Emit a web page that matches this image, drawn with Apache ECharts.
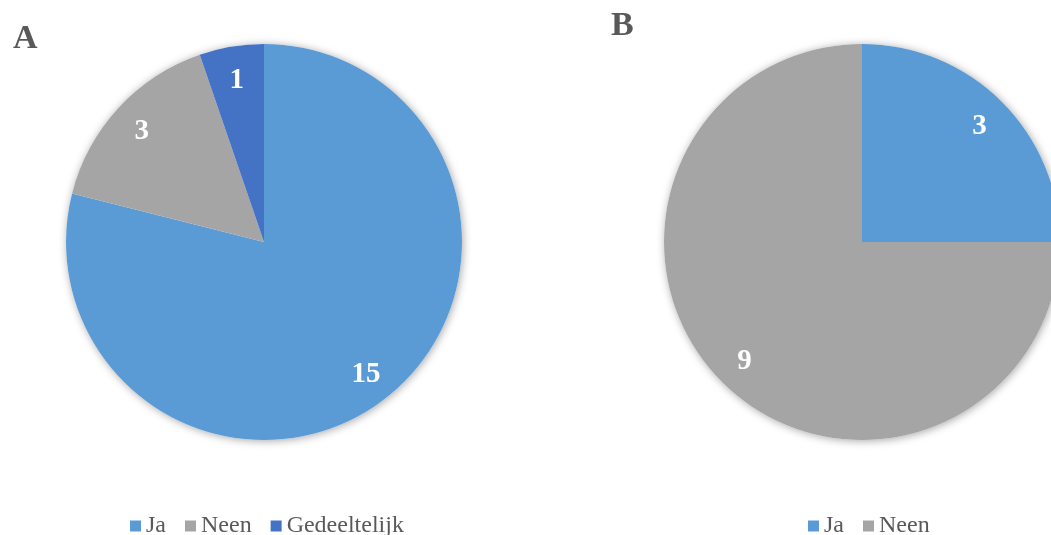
<!DOCTYPE html>
<html>
<head>
<meta charset="utf-8">
<script src="https://cdn.jsdelivr.net/npm/echarts@6/dist/echarts.min.js"></script>
<style>
  html, body { margin: 0; padding: 0; background: #fff; }
  #chart { width: 1051px; height: 535px; }
</style>
</head>
<body>
<div id="chart"></div>
<script>
// Survey answers, panel A and panel B
const categoriesA = ['Ja', 'Neen', 'Gedeeltelijk'];
const valuesA = [15, 3, 1];
const categoriesB = ['Ja', 'Neen'];
const valuesB = [3, 9];

const palette = { 'Ja': '#5B9BD5', 'Neen': '#A5A5A5', 'Gedeeltelijk': '#4472C4' };
const serif = '"Liberation Serif", "Times New Roman", serif';
const R = 198;

function sum(a) { return a.reduce((s, v) => s + v, 0); }

function panel(cats, vals, center) {
  const data = cats.map((c, i) => ({ name: c, value: vals[i], itemStyle: { color: palette[c] } }));
  return [
    // soft shadow under the whole disc
    {
      type: 'pie', center, radius: [0, R], silent: true, z: 1,
      label: { show: false }, labelLine: { show: false },
      data: [{ name: '', value: sum(vals), itemStyle: { color: '#fff', shadowBlur: 8, shadowColor: 'rgba(0,0,0,0.35)', shadowOffsetX: 1, shadowOffsetY: 1 } }],
      legendHoverLink: false
    },
    // the slices
    {
      type: 'pie', center, radius: [0, R], z: 2,
      label: { show: false }, labelLine: { show: false },
      itemStyle: { borderWidth: 0 },
      data
    },
    // value labels, set at roughly 0.82 of the radius
    {
      type: 'pie', center, radius: [128, R], silent: true, z: 3,
      itemStyle: { color: 'transparent' },
      label: {
        show: true, position: 'inside', formatter: '{c}',
        color: '#fff', fontFamily: serif, fontWeight: 'bold', fontSize: 29, offset: [0, 2]
      },
      labelLine: { show: false },
      data: cats.map((c, i) => ({ name: c, value: vals[i] })),
      legendHoverLink: false
    }
  ];
}

const chart = echarts.init(document.getElementById('chart'), null, { renderer: 'canvas' });
const legendStyle = {
  orient: 'horizontal', top: 509, icon: 'rect', itemWidth: 11, itemHeight: 11, itemGap: 19,
  textStyle: { color: '#595959', fontFamily: serif, fontSize: 24, padding: [0, 0, 0, 0] },
  selectedMode: false
};

chart.setOption({
  animation: false,
  title: [
    { text: 'A', left: 8, top: 17, textStyle: { fontFamily: serif, fontSize: 34, fontWeight: 'bold', color: '#595959' } },
    { text: 'B', left: 606, top: 4, textStyle: { fontFamily: serif, fontSize: 34, fontWeight: 'bold', color: '#595959' } }
  ],
  legend: [
    Object.assign({}, legendStyle, { left: 125, data: categoriesA }),
    Object.assign({}, legendStyle, { left: 803, data: categoriesB })
  ],
  series: [
    ...panel(categoriesA, valuesA, [264, 242]),
    ...panel(categoriesB, valuesB, [862, 242])
  ]
});
</script>
</body>
</html>
